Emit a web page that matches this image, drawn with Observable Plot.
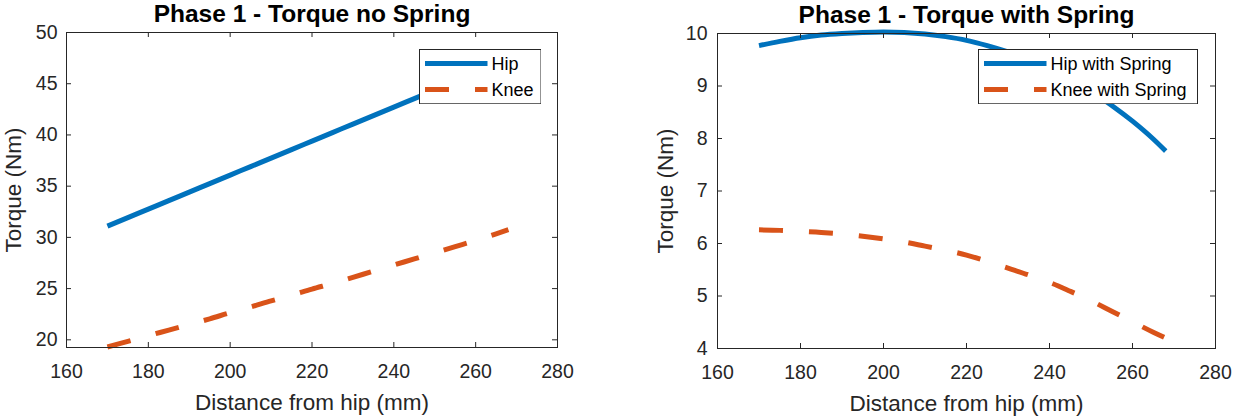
<!DOCTYPE html>
<html>
<head>
<meta charset="utf-8">
<script src="https://cdn.jsdelivr.net/npm/d3@7"></script>
<script src="https://cdn.jsdelivr.net/npm/@observablehq/plot@0.6"></script>
<style>
  html, body { margin: 0; padding: 0; background: #fff; }
  #wrap { display: flex; width: 1237px; height: 416px; overflow: hidden; }
  .panel { position: relative; height: 416px; }
  .panel > svg.legend { position: absolute; }
</style>
</head>
<body>
<div id="wrap"><div class="panel" id="p1" style="width:620px"></div><div class="panel" id="p2" style="width:617px"></div></div>
<script>
// ---- data ----
const distance = [170,175,180,185,190,195,200,205,210,215,220,225,230,235,240,245,250,255,260,265,268];
const hipNoSpring  = [31.10,31.93,32.76,33.59,34.42,35.25,36.08,36.91,37.74,38.57,39.40,40.23,41.06,41.89,42.72,43.55,44.38,45.21,46.04,46.87,47.37];
const kneeNoSpring = [19.30,19.85,20.40,20.95,21.50,22.05,22.65,23.20,23.80,24.35,24.95,25.50,26.10,26.70,27.30,27.90,28.50,29.10,29.70,30.35,30.75];
const hipWithSpring  = [9.77,9.85,9.92,9.97,10.00,10.02,10.03,10.02,9.99,9.94,9.87,9.77,9.65,9.51,9.34,9.14,8.90,8.63,8.33,7.99,7.76];
const kneeWithSpring = [6.26,6.25,6.23,6.21,6.18,6.14,6.09,6.03,5.95,5.87,5.78,5.66,5.53,5.40,5.26,5.09,4.91,4.71,4.51,4.31,4.20];

const xTicks = [160,180,200,220,240,260,280];
const yTicksNoSpring = [20,25,30,35,40,45,50];
const yTicksWithSpring = [4,5,6,7,8,9,10];

const titles = ["Phase 1 - Torque no Spring", "Phase 1 - Torque with Spring"];
const xLabel = "Distance from hip (mm)";
const yLabel = "Torque (Nm)";
const seriesNoSpring = ["Hip", "Knee"];
const seriesWithSpring = ["Hip with Spring", "Knee with Spring"];

// ---- styles ----
const FONT = "'Liberation Sans', Arial, Helvetica, sans-serif";
const colors = ["#0072BD", "#D95319"];
const dashes = [null, "24,26"];
const AX = "#262626";

function chart(o) {
  const rows = distance.map((d, i) => ({d, a: o.hip[i], b: o.knee[i]}));
  const plotW = o.width - o.mL - o.mR, plotH = 416 - o.mT - o.mB;
  const tl = 5;
  return Plot.plot({
    width: o.width, height: 416,
    marginLeft: o.mL, marginRight: o.mR, marginTop: o.mT, marginBottom: o.mB,
    style: {fontFamily: FONT, fontSize: "19.5px", color: AX, background: "white", overflow: "visible"},
    x: {domain: [160, 280]},
    y: {domain: o.yDomain},
    marks: [
      Plot.line(rows, {x: "d", y: "a", stroke: colors[0], strokeWidth: 5, strokeLinecap: "butt", curve: "monotone-x"}),
      Plot.line(rows, {x: "d", y: "b", stroke: colors[1], strokeWidth: 5, strokeLinecap: "butt", curve: "monotone-x", strokeDasharray: dashes[1]}),
      Plot.frame({stroke: AX, strokeWidth: 1}),
      Plot.tickX(xTicks, {x: d => d, insetTop: plotH - tl, stroke: AX}),
      Plot.tickX(xTicks, {x: d => d, insetBottom: plotH - tl, stroke: AX}),
      Plot.tickY(o.yTicks, {y: d => d, insetRight: plotW - tl, stroke: AX}),
      Plot.tickY(o.yTicks, {y: d => d, insetLeft: plotW - tl, stroke: AX}),
      Plot.axisX({ticks: xTicks, tickSize: 0, tickPadding: 17, label: null, fill: AX, tickFormat: d => String(d)}),
      Plot.axisY({ticks: o.yTicks, tickSize: 0, tickPadding: o.yPad, label: null, fill: AX, tickFormat: d => String(d)}),
      Plot.text([o.title], {text: d => d, frameAnchor: "top", dy: -18, lineAnchor: "middle", textAnchor: "middle",
        fontSize: 24.5, fontWeight: "bold", fill: "black"}),
      Plot.text([xLabel], {text: d => d, frameAnchor: "bottom", dy: 55, lineAnchor: "middle", textAnchor: "middle",
        fontSize: 22.5, fill: AX}),
      Plot.text([yLabel], {text: d => d, frameAnchor: "left", dx: o.yLabelDx, rotate: -90, lineAnchor: "middle", textAnchor: "middle",
        fontSize: 22.5, fill: AX})
    ]
  });
}

function legend(container, names, box) {
  const svg = d3.select(container).append("svg").attr("class", "legend")
    .attr("width", box.w).attr("height", box.h)
    .style("left", box.x + "px").style("top", box.y + "px");
  svg.append("rect").attr("x", 0.5).attr("y", 0.5).attr("width", box.w - 1).attr("height", box.h - 1)
    .attr("fill", "white").attr("stroke", AX);
  const rowsY = [14.6, 40.6];
  names.forEach((n, i) => {
    svg.append("line").attr("x1", 6).attr("x2", 68.5).attr("y1", rowsY[i]).attr("y2", rowsY[i])
      .attr("stroke", colors[i]).attr("stroke-width", 5)
      .attr("stroke-dasharray", dashes[i]);
    svg.append("text").attr("x", 72.5).attr("y", rowsY[i]).attr("dy", "0.35em")
      .attr("font-family", FONT).attr("font-size", 18).attr("fill", "#000").text(n);
  });
}

const p1 = document.getElementById("p1");
const p2 = document.getElementById("p2");

p1.appendChild(chart({hip: hipNoSpring, knee: kneeNoSpring, title: titles[0], yDomain: [19.25, 50], yTicks: yTicksNoSpring,
  width: 620, mL: 66, mR: 63, mT: 32, mB: 69, yPad: 9, yLabelDx: -52.7}));
legend(p1, seriesNoSpring, {x: 418.5, y: 48.7, w: 122.5, h: 55.3});

p2.appendChild(chart({hip: hipWithSpring, knee: kneeWithSpring, title: titles[1], yDomain: [4, 10], yTicks: yTicksWithSpring,
  width: 617, mL: 97, mR: 22, mT: 33, mB: 68, yPad: 10, yLabelDx: -51.5}));
legend(p2, seriesWithSpring, {x: 358, y: 48.7, w: 220, h: 55.3});
</script>
</body>
</html>
